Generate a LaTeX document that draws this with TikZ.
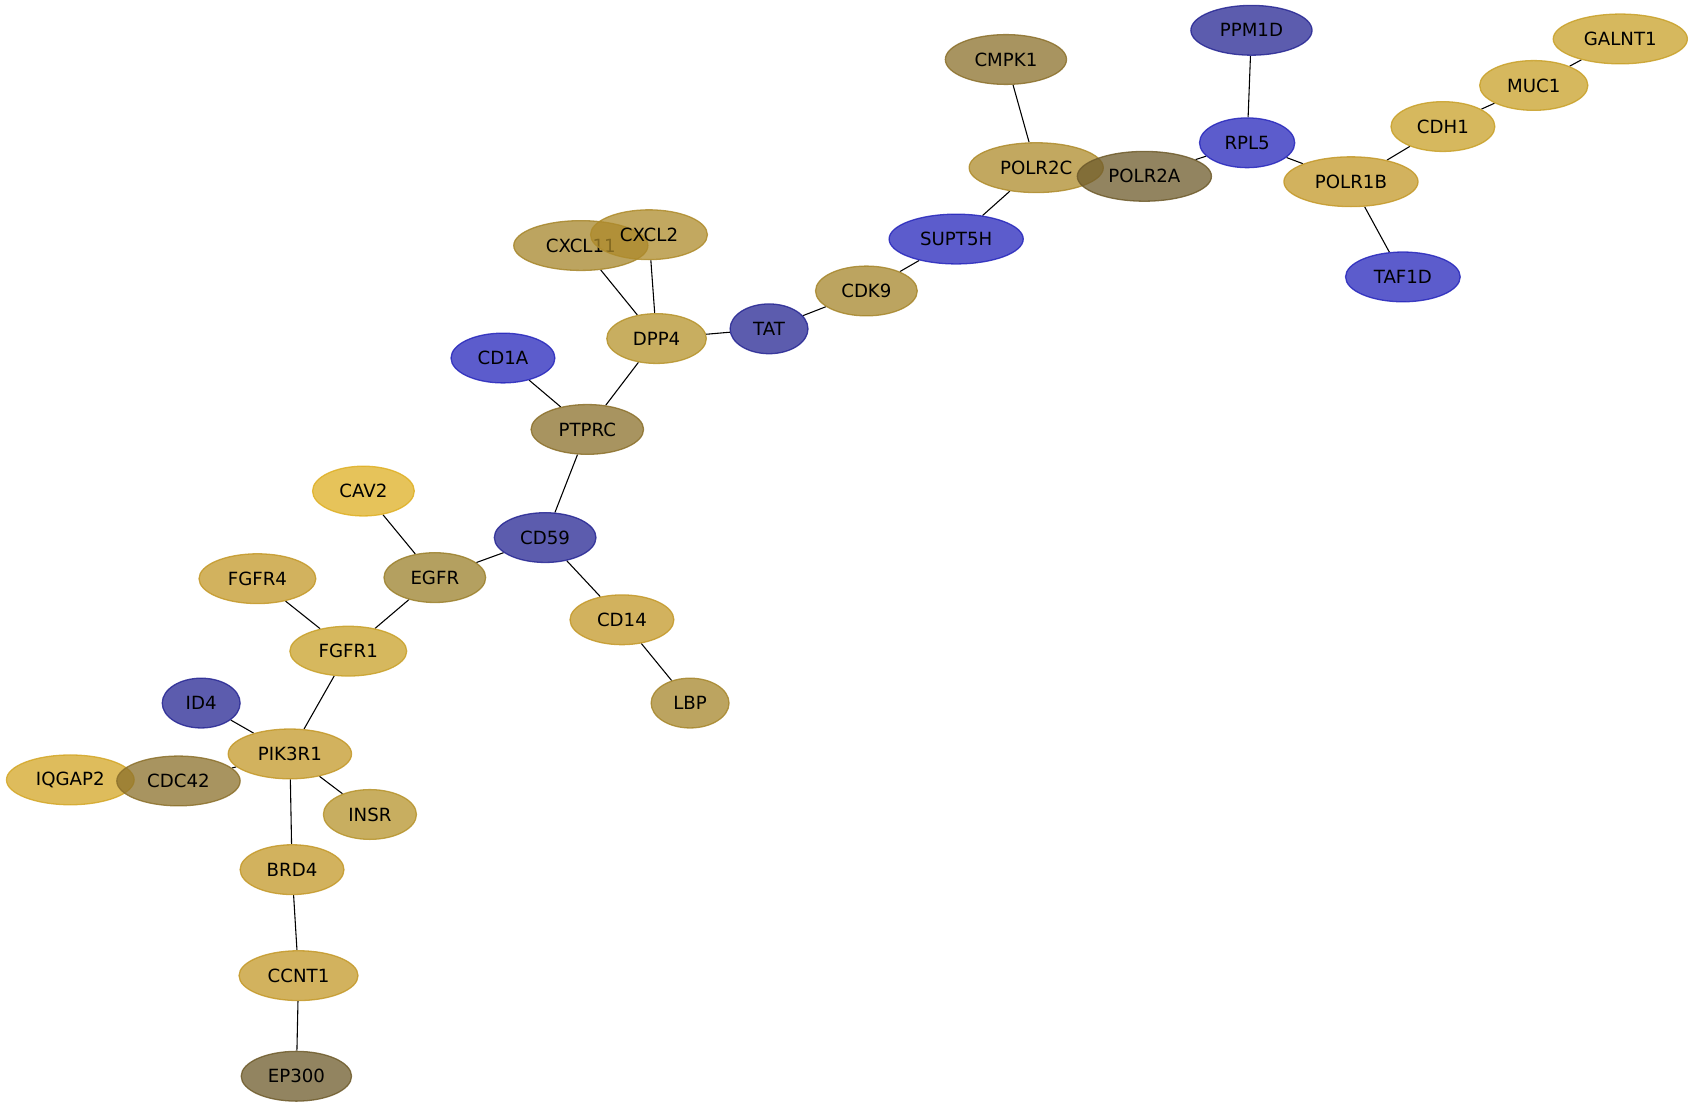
\documentclass[tikz,border=0pt]{standalone}
\usepackage{fontspec}
\setmainfont{DejaVu Sans}
\usetikzlibrary{shapes.geometric,backgrounds}
\definecolor{bA}{RGB}{38,38,187}
\definecolor{bB}{RGB}{38,38,147}
\definecolor{gcav}{RGB}{222,175,35}
\definecolor{giq}{RGB}{211,166,38}
\definecolor{gA}{RGB}{200,160,40}
\definecolor{gB}{RGB}{195,152,40}
\definecolor{gC}{RGB}{182,147,43}
\definecolor{gD}{RGB}{174,139,43}
\definecolor{gE}{RGB}{166,134,43}
\definecolor{gF}{RGB}{155,128,43}
\definecolor{gG}{RGB}{139,112,43}
\definecolor{gH}{RGB}{110,91,43}
\tikzset{
  gene/.style={ellipse, fill=#1, draw=#1, fill opacity=0.75, draw opacity=0.85,
    text opacity=1, line width=0.6pt, minimum height=23pt, inner sep=0pt,
    font=\fontsize{8.4}{10}\selectfont},
  link/.style={line width=0.5pt, black}
}
\begin{document}
\begin{tikzpicture}[x=0.5pt,y=-0.5pt]
\useasboundingbox (0,0) rectangle (1568,1024);
\node[gene=bB, minimum width=56pt] (PPM1D) at (1157,28) {PPM1D};
\node[gene=gA, minimum width=62pt] (GALNT1) at (1498,36) {GALNT1};
\node[gene=gA, minimum width=50pt] (MUC1) at (1418,79) {MUC1};
\node[gene=gG, minimum width=56pt] (CMPK1) at (930,55) {CMPK1};
\node[gene=bA, minimum width=44pt] (RPL5) at (1153,132) {RPL5};
\node[gene=gA, minimum width=48pt] (CDH1) at (1334,117) {CDH1};
\node[gene=gD, minimum width=62pt] (POLR2C) at (958,155) {POLR2C};
\node[gene=gH, minimum width=62pt] (POLR2A) at (1058,163) {POLR2A};
\node[gene=gB, minimum width=62pt] (POLR1B) at (1249,168) {POLR1B};
\node[gene=bA, minimum width=53pt] (TAF1D) at (1297,256) {TAF1D};
\node[gene=bA, minimum width=62pt] (SUPT5H) at (884,221) {SUPT5H};
\node[gene=gE, minimum width=62pt] (CXCL11) at (537,227) {CXCL11};
\node[gene=gD, minimum width=54pt] (CXCL2) at (600,217) {CXCL2};
\node[gene=gE, minimum width=47pt] (CDK9) at (801,269) {CDK9};
\node[gene=gC, minimum width=46pt] (DPP4) at (607,313) {DPP4};
\node[gene=bB, minimum width=36pt] (TAT) at (711,304) {TAT};
\node[gene=bA, minimum width=48pt] (CD1A) at (465,331) {CD1A};
\node[gene=gG, minimum width=52pt] (PTPRC) at (543,397) {PTPRC};
\node[gene=gcav, minimum width=47pt] (CAV2) at (336,454) {CAV2};
\node[gene=bB, minimum width=47pt] (CD59) at (504,497) {CD59};
\node[gene=gB, minimum width=54pt] (FGFR4) at (238,535) {FGFR4};
\node[gene=gF, minimum width=47pt] (EGFR) at (402,534) {EGFR};
\node[gene=gB, minimum width=48pt] (CD14) at (575,573) {CD14};
\node[gene=gA, minimum width=54pt] (FGFR1) at (322,602) {FGFR1};
\node[gene=bB, minimum width=36pt] (ID4) at (186,650) {ID4};
\node[gene=gE, minimum width=36pt] (LBP) at (638,650) {LBP};
\node[gene=gB, minimum width=57pt] (PIK3R1) at (268,697) {PIK3R1};
\node[gene=giq, minimum width=59pt] (IQGAP2) at (65,721) {IQGAP2};
\node[gene=gG, minimum width=57pt] (CDC42) at (165,722) {CDC42};
\node[gene=gC, minimum width=43pt] (INSR) at (342,753) {INSR};
\node[gene=gB, minimum width=48pt] (BRD4) at (270,804) {BRD4};
\node[gene=gB, minimum width=55pt] (CCNT1) at (276,902) {CCNT1};
\node[gene=gH, minimum width=51pt] (EP300) at (274,995) {EP300};
\begin{scope}[on background layer]
\draw[link] (PPM1D) -- (RPL5);
\draw[link] (RPL5) -- (POLR2A);
\draw[link] (RPL5) -- (POLR1B);
\draw[link] (POLR1B) -- (CDH1);
\draw[link] (CDH1) -- (MUC1);
\draw[link] (MUC1) -- (GALNT1);
\draw[link] (POLR1B) -- (TAF1D);
\draw[link] (CMPK1) -- (POLR2C);
\draw[link] (POLR2C) -- (SUPT5H);
\draw[link] (SUPT5H) -- (CDK9);
\draw[link] (CDK9) -- (TAT);
\draw[link] (TAT) -- (DPP4);
\draw[link] (DPP4) -- (CXCL2);
\draw[link] (DPP4) -- (CXCL11);
\draw[link] (DPP4) -- (PTPRC);
\draw[link] (CD1A) -- (PTPRC);
\draw[link] (PTPRC) -- (CD59);
\draw[link] (CD59) -- (EGFR);
\draw[link] (CD59) -- (CD14);
\draw[link] (CD14) -- (LBP);
\draw[link] (CAV2) -- (EGFR);
\draw[link] (EGFR) -- (FGFR1);
\draw[link] (FGFR4) -- (FGFR1);
\draw[link] (FGFR1) -- (PIK3R1);
\draw[link] (ID4) -- (PIK3R1);
\draw[link] (PIK3R1) -- (CDC42);
\draw[link] (PIK3R1) -- (INSR);
\draw[link] (PIK3R1) -- (BRD4);
\draw[link] (BRD4) -- (CCNT1);
\draw[link] (CCNT1) -- (EP300);
\end{scope}
\end{tikzpicture}
\end{document}
